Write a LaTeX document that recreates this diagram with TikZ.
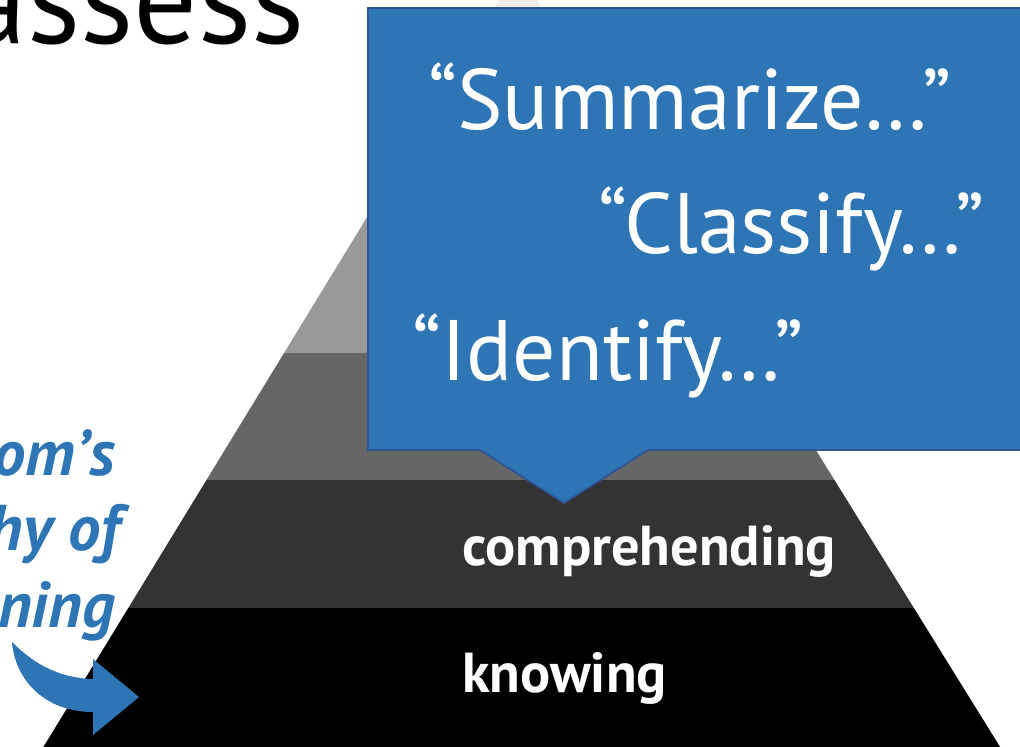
\documentclass[tikz,border=0pt]{standalone}
\usepackage{fontspec}
\setmainfont{PT Sans}
\definecolor{calloutblue}{RGB}{46, 117, 182}
\definecolor{calloutedge}{RGB}{47, 85, 151}
\usetikzlibrary{calc}

\tikzset{
  quote/.style={text=white, font=\fontsize{61}{61}\selectfont, inner sep=0pt, anchor=base west},
  level/.style={text=white, font=\fontsize{40}{40}\selectfont\bfseries, inner sep=0pt, anchor=base west},
  bloom/.style={text=calloutblue, font=\fontsize{46}{46}\selectfont\bfseries\itshape, inner sep=0pt, anchor=base east},
}

\begin{document}
\begin{tikzpicture}[x=0.025cm, y=-0.025cm]
  \useasboundingbox (0,0) rectangle (1020,746);
  \fill[white] (0,0) rectangle (1020,746);

  % Title word, cut by the page edge
  \node[font=\fontsize{90}{90}\selectfont, inner sep=0pt, anchor=base east] (title) at (305,43) {assess};

  % Pyramid bands
  \coordinate (apex) at (518,-30);
  \coordinate (baseL) at (11,800);
  \coordinate (baseR) at (1033,800);
  \begin{scope}
    \clip (apex) -- (baseL) -- (baseR) -- cycle;
    \foreach \ytop/\ybot/\shade in {-40/99/black!7, 99/353/black!40, 353/480/black!60, 480/608/black!80, 608/800/black}
      \fill[\shade] (0,\ytop) rectangle (1020,\ybot);
  \end{scope}

  \node[level] (comprehending) at (462,565) {comprehending};
  \node[level] (knowing) at (462,692) {knowing};

  % Callout with pointer
  \draw[calloutedge, fill=calloutblue, line width=1.2pt] (368,8) -- (1030,8) -- (1030,450) -- (648,450) -- (564,503) -- (480,450) -- (368,450) -- cycle;
  \node[quote] (summarize) at (428,129) {“Summarize…”};
  \node[quote] (classify) at (598,253) {“Classify…”};
  \node[quote] (identify) at (412,380) {“Identify…”};

  % Bloom label on the left
  \node[bloom] (bloom1) at (115,475) {om’s};
  \node[bloom] (bloom2) at (120,550) {hy of};
  \node[bloom] (bloom3) at (115,627) {ning};

  % Curved arrow into the bottom band
  \fill[calloutblue] (12,642) .. controls (30,660) and (55,678) .. (93,679) -- (93,659) -- (139,697) -- (93,735) -- (93,712) .. controls (45,712) and (15,680) .. (12,642) -- cycle;
\end{tikzpicture}
\end{document}
